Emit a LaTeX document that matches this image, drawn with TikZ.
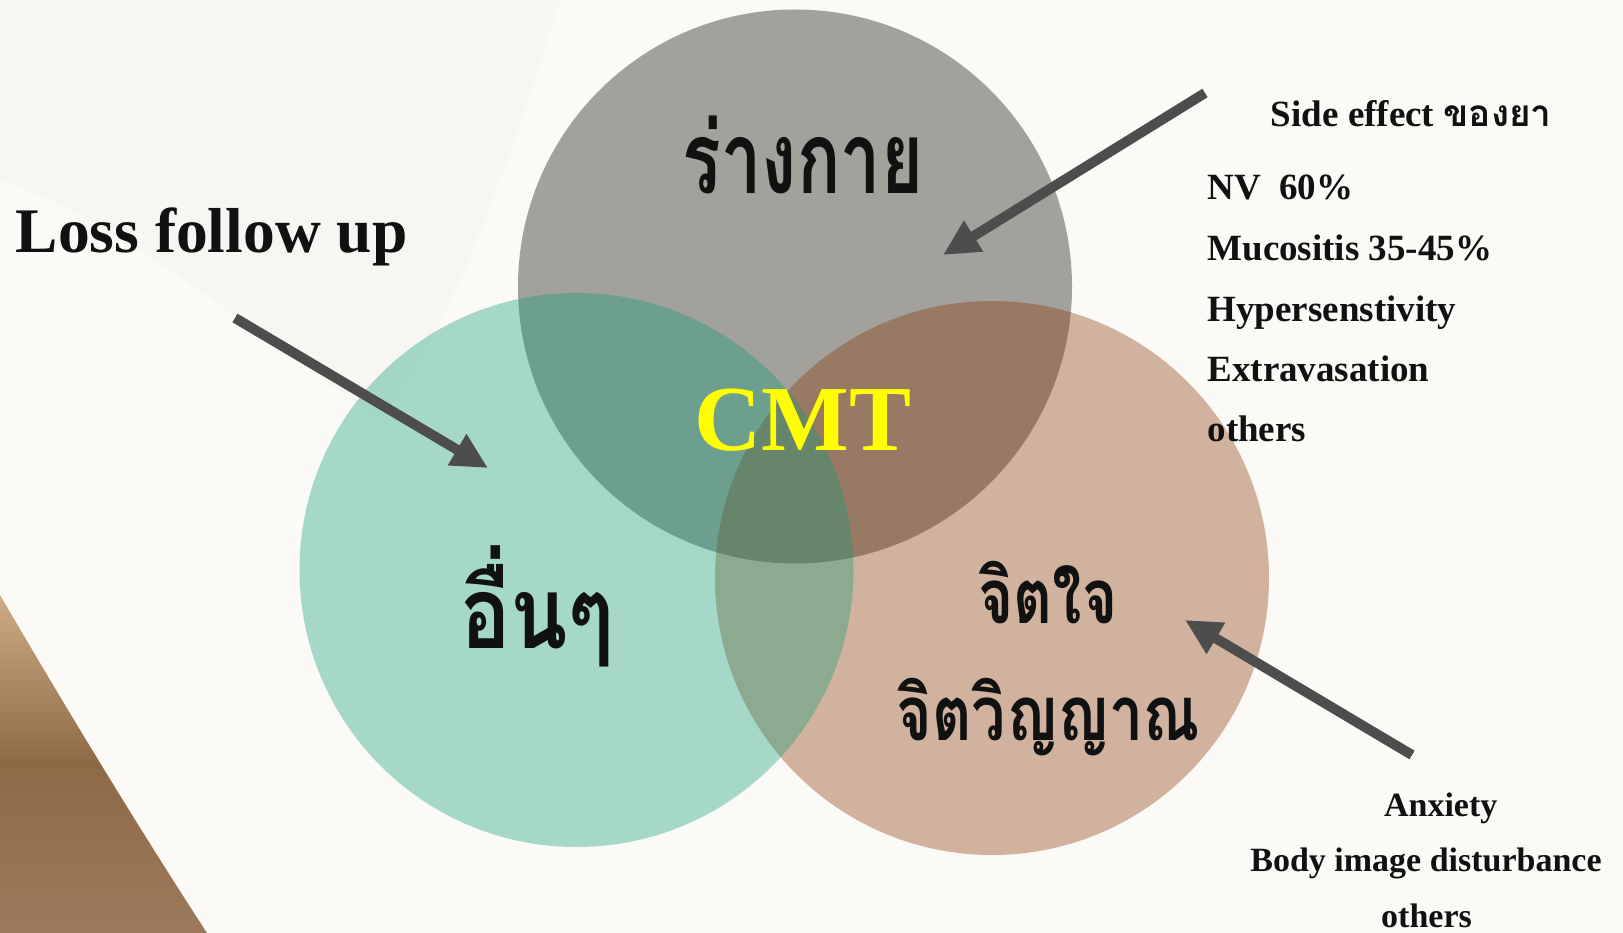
\documentclass[tikz,border=0pt]{standalone}
\usepackage{fontspec}
\setmainfont{Liberation Serif}
\newfontfamily\thaifont[Script=Thai]{Loma}
\usetikzlibrary{arrows.meta}
\definecolor{bgc}{RGB}{251,250,247}
\definecolor{blobc}{RGB}{247,246,242}
\definecolor{physc}{RGB}{162,161,156}
\definecolor{tealc}{RGB}{14,157,121}
\definecolor{brownc}{RGB}{135,50,0}
\definecolor{arrowc}{RGB}{77,77,77}
\definecolor{tanA}{RGB}{205,172,135}
\definecolor{tanM}{RGB}{142,105,70}
\definecolor{tanB}{RGB}{155,122,92}
\definecolor{txtc}{RGB}{17,17,17}
\begin{document}
\begin{tikzpicture}[x=1pt,y=-1pt,
  venn/.style={circle, minimum size=554pt, inner sep=0pt, draw=none},
  pointer/.style={draw=arrowc, line width=10pt, -{Triangle[length=36pt,width=34pt]}},
  side/.style={inner sep=0pt, anchor=base west, text=txtc, font=\bfseries\fontsize{37}{44}\selectfont},
  bottomtxt/.style={inner sep=0pt, anchor=base, text=txtc, font=\bfseries\fontsize{34}{40}\selectfont},
  thaibig/.style={inner sep=0pt, anchor=base, text=txtc, font=\thaifont\bfseries\fontsize{100}{110}\selectfont},
  thaimid/.style={inner sep=0pt, anchor=base, text=txtc, font=\thaifont\bfseries\fontsize{76}{84}\selectfont}
]
\useasboundingbox (0,0) rectangle (1623,933);
\fill[bgc] (0,0) rectangle (1623,933);
\fill[blobc] (0,0) -- (560,0) .. controls (520,120) and (470,300) .. (380,420) .. controls (250,330) and (120,220) .. (0,180) -- cycle;
\shade[top color=tanA, bottom color=tanB, middle color=tanM] (0,595) .. controls (70,715) and (140,830) .. (207,933) -- (0,933) -- cycle;

\node[venn, fill=physc] (phys) at (795,286.5) {};
\node[venn, fill=brownc, fill opacity=0.356] (mind) at (992,578) {};
\node[venn, fill=tealc, fill opacity=0.356] (other) at (576.5,570) {};

\node[thaibig] (tphys) at (803,194) {\scalebox{0.72}[1]{ร่างกาย}};
\node[thaibig] (tother) at (537,648) {\scalebox{0.84}[1]{อื่นๆ}};
\node[thaimid] (tmind1) at (1048,623) {\scalebox{0.79}[1]{จิตใจ}};
\node[thaimid] (tmind2) at (1048.5,740) {\scalebox{0.80}[1]{จิตวิญญาณ}};

\node[inner sep=0pt, anchor=base, text={rgb,255:red,255;green,255;blue,0}, font=\bfseries\fontsize{93}{100}\selectfont] (cmt) at (803.3,450.7) {CMT};

\node[inner sep=0pt, anchor=base west, text=txtc, font=\bfseries\fontsize{63.5}{70}\selectfont] (loss) at (15.5,253) {Loss follow up};

\node[side] (se) at (1270.7,126.7) {Side effect {\thaifont ของยา}};
\node[side] (nv) at (1207.3,199.5) {NV\ \ 60\%};
\node[side] (muc) at (1207.3,260.5) {Mucositis 35-45\%};
\node[side] (hyp) at (1207.3,321.5) {Hypersenstivity};
\node[side] (ext) at (1207.3,381.7) {Extravasation};
\node[side] (oth1) at (1207.3,441.7) {others};

\node[bottomtxt] (anx) at (1440.7,816) {Anxiety};
\node[bottomtxt] (body) at (1426,871.7) {Body image disturbance};
\node[bottomtxt] (oth2) at (1426.5,927) {others};

\coordinate (a1s) at (1205,93);
\coordinate (a1e) at (943,255);
\coordinate (a2s) at (235,318);
\coordinate (a2e) at (488,468);
\coordinate (a3s) at (1412,755);
\coordinate (a3e) at (1185,620);
\draw[pointer] (a1s) -- (a1e);
\draw[pointer] (a2s) -- (a2e);
\draw[pointer] (a3s) -- (a3e);
\end{tikzpicture}
\end{document}
